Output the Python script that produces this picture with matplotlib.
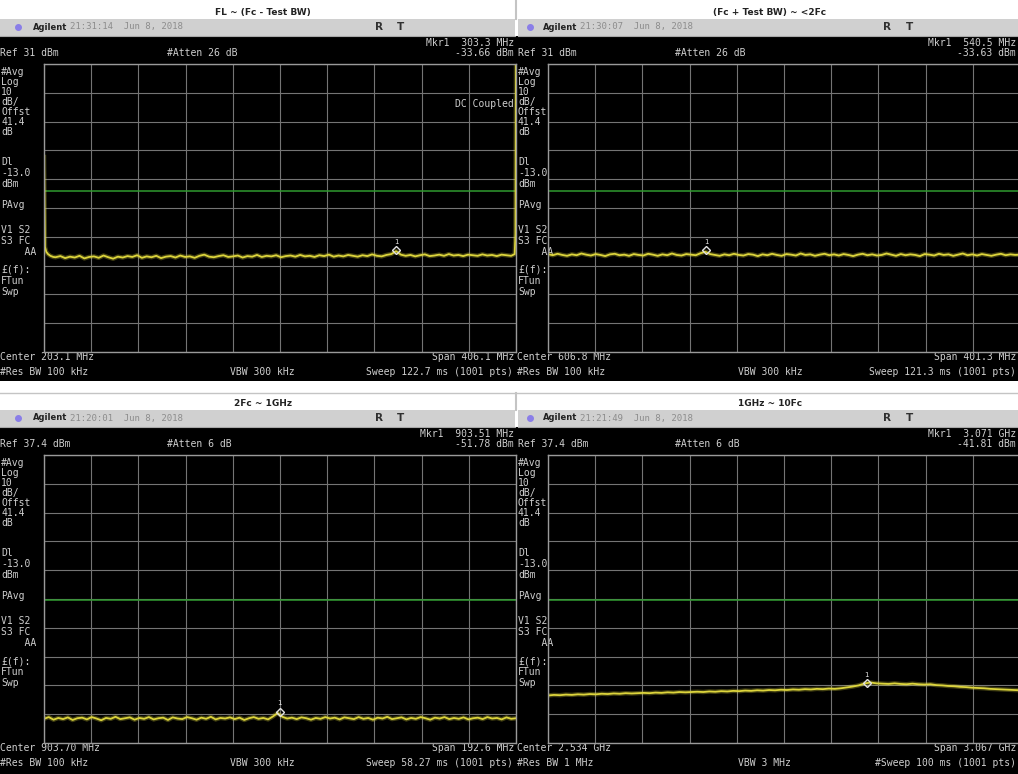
import numpy as np
import matplotlib.pyplot as plt
from matplotlib.patches import Rectangle

W, H = 1018, 774

# panel order: top-left, top-right, bottom-left, bottom-right
titles = ['FL ~ (Fc - Test BW)', '(Fc + Test BW) ~ <2Fc', '2Fc ~ 1GHz', '1GHz ~ 10Fc']
timestamps = ['21:31:14  Jun 8, 2018', '21:30:07  Jun 8, 2018',
              '21:20:01  Jun 8, 2018', '21:21:49  Jun 8, 2018']
ref_dbm = [31, 31, 37.4, 37.4]
ref_labels = ['Ref 31 dBm', 'Ref 31 dBm', 'Ref 37.4 dBm', 'Ref 37.4 dBm']
atten_labels = ['#Atten 26 dB', '#Atten 26 dB', '#Atten 6 dB', '#Atten 6 dB']
center_mhz = [203.1, 606.8, 903.70, 2534.0]
span_mhz = [406.1, 401.3, 192.6, 3067.0]
center_labels = ['Center 203.1 MHz', 'Center 606.8 MHz', 'Center 903.70 MHz', 'Center 2.534 GHz']
span_labels = ['Span 406.1 MHz', 'Span 401.3 MHz', 'Span 192.6 MHz', 'Span 3.067 GHz']
rbw_labels = ['#Res BW 100 kHz', '#Res BW 100 kHz', '#Res BW 100 kHz', '#Res BW 1 MHz']
vbw_labels = ['VBW 300 kHz', 'VBW 300 kHz', 'VBW 300 kHz', 'VBW 3 MHz']
sweep_labels = ['Sweep 122.7 ms (1001 pts)', 'Sweep 121.3 ms (1001 pts)',
                'Sweep 58.27 ms (1001 pts)', '#Sweep 100 ms (1001 pts)']
mkr_freq_labels = ['Mkr1  303.3 MHz', 'Mkr1  540.5 MHz', 'Mkr1  903.51 MHz', 'Mkr1  3.071 GHz']
mkr_level_labels = ['-33.66 dBm', '-33.63 dBm', '-51.78 dBm', '-41.81 dBm']
mkr_freq = [303.3, 540.5, 903.51, 3071.0]
mkr_dbm = [-33.66, -33.63, -51.78, -41.81]
display_line_dbm = -13.0

side_labels = ['#Avg', 'Log', '10', 'dB/', 'Offst', '41.4', 'dB', 'Dl', '-13.0', 'dBm',
               'PAvg', 'V1 S2', 'S3 FC', '    AA', '£(f):', 'FTun', 'Swp']
side_rows = [72, 82, 92, 102, 112, 122, 132, 162, 173, 184,
             205, 230, 241, 252, 270, 281, 292]

# traces (dBm)
tl_edge_freq = [0.05, 0.9, 2.0, 3.5, 5.5, 8.0]
tl_edge_dbm = [-1.3, -32.5, -34.2, -35.0, -35.6, -36.0]
tl_body_dbm = [
    -36.1, -35.7, -36.4, -35.9, -36.2, -35.6, -36.5, -36.0, -35.8, -36.3,
    -35.5, -36.1, -36.6, -35.9, -36.2, -35.7, -36.0, -35.4, -36.3, -35.8,
    -36.1, -35.6, -36.4, -35.9, -35.7, -36.2, -35.5, -36.0, -35.8, -36.3,
    -35.6, -35.2, -35.9, -36.1, -35.7, -35.4, -36.0, -35.8, -35.5, -36.2,
    -35.7, -35.9, -35.3, -36.0, -35.6, -35.8, -35.4, -36.1, -35.7, -35.5,
    -35.9, -35.3, -35.8, -35.6, -36.0, -35.4, -35.7, -35.2, -35.9, -35.5,
    -35.8, -35.3, -35.6, -35.9, -35.4, -35.7, -35.1, -35.6, -35.8, -35.3,
    -35.0, -34.0, -35.2, -35.6, -35.3, -35.8, -35.4, -35.1, -35.7, -35.5,
    -35.2, -35.6, -35.0, -35.5, -35.3, -35.7, -35.2, -35.4, -35.6, -35.1,
    -35.5, -35.3, -35.7, -35.2, -35.4, -35.6]
tl_end_freq = [405.0, 405.7, 406.15]
tl_end_dbm = [-35.0, -28.0, 33.0]

tr_dbm = [
    -35.0, -35.4, -34.9, -35.3, -35.6, -35.1, -35.4, -34.8, -35.2, -35.5,
    -35.0, -35.3, -35.7, -35.1, -34.9, -35.4, -35.2, -35.6, -35.0, -35.3,
    -35.5, -34.9, -35.2, -35.6, -35.1, -35.4, -34.8, -35.3, -35.5, -35.0,
    -35.2, -35.4, -34.7, -34.2, -35.0, -35.3, -35.6, -35.1, -35.4, -34.9,
    -35.3, -35.5, -35.0, -35.2, -35.7, -35.1, -35.4, -34.9, -35.3, -35.6,
    -35.0, -35.2, -35.5, -34.8, -35.3, -35.1, -35.6, -35.2, -34.9, -35.4,
    -35.1, -35.5, -35.0, -35.3, -35.7, -35.2, -34.9, -35.4, -35.1, -35.5,
    -35.3, -34.8, -35.2, -35.6, -35.0, -35.4, -35.1, -35.3, -35.7, -35.0,
    -35.2, -35.5, -34.9, -35.3, -35.1, -35.6, -35.2, -34.8, -35.4, -35.1,
    -35.5, -35.0, -35.3, -35.6, -35.2, -34.9, -35.4, -35.1, -35.3, -35.2]

bl_dbm = [
    -54.2, -53.6, -54.5, -53.9, -54.3, -53.7, -54.6, -54.0, -53.8, -54.4,
    -53.6, -54.1, -54.7, -53.9, -54.2, -53.5, -54.3, -54.0, -53.7, -54.5,
    -53.9, -54.2, -53.6, -54.4, -54.0, -53.8, -54.6, -53.7, -54.1, -54.3,
    -53.6, -54.0, -54.5, -53.8, -54.2, -53.5, -54.4, -53.9, -54.1, -53.7,
    -54.3, -53.8, -54.6, -54.0, -53.6, -54.2, -53.9, -54.4, -53.4, -52.2,
    -53.5, -54.1, -53.8, -54.3, -53.7, -54.0, -54.5, -53.9, -54.2, -53.6,
    -54.1, -53.8, -54.4, -53.7, -54.0, -54.3, -53.6, -54.2, -53.9, -54.5,
    -53.8, -54.1, -53.5, -54.3, -54.0, -53.7, -54.4, -53.9, -54.2, -53.6,
    -54.0, -54.5, -53.8, -54.1, -53.6, -54.3, -53.9, -54.2, -53.7, -54.4,
    -54.0, -53.8, -54.3, -53.6, -54.1, -53.9, -54.4, -53.7, -54.2, -54.0]

br_dbm = [
    -46.1, -45.9, -46.0, -45.8, -45.9, -45.7, -45.8, -45.6, -45.7, -45.5,
    -45.6, -45.4, -45.5, -45.3, -45.4, -45.3, -45.2, -45.3, -45.1, -45.2,
    -45.0, -45.1, -44.9, -45.0, -44.9, -44.8,
    -44.9, -44.7, -44.8, -44.6, -44.7, -44.5, -44.6, -44.4, -44.5, -44.3,
    -44.4, -44.2, -44.3, -44.1, -44.2, -44.0, -44.1, -43.9, -44.0, -43.8,
    -43.9, -43.7, -43.8,
    -43.6, -43.3, -43.0, -42.6, -41.9, -41.6,
    -41.9, -42.0, -42.1, -41.9, -42.1, -42.2, -42.0, -42.2, -42.3, -42.2,
    -42.5, -42.6, -42.8, -42.9, -43.1, -43.2, -43.4, -43.5, -43.6, -43.8,
    -43.9, -44.0, -44.1, -44.2, -44.3]

TEXT = '#cfcfcf'
MONO = 'DejaVu Sans Mono'


def span_freqs(i, n):
    lo = center_mhz[i] - span_mhz[i] / 2
    hi = center_mhz[i] + span_mhz[i] / 2
    return np.linspace(lo, hi, n)


tl_freq = np.concatenate([tl_edge_freq, np.linspace(10, 402, len(tl_body_dbm)), tl_end_freq])
tl_all = np.concatenate([tl_edge_dbm, tl_body_dbm, tl_end_dbm])
traces = [
    (tl_freq, tl_all),
    (span_freqs(1, len(tr_dbm)), np.array(tr_dbm)),
    (span_freqs(2, len(bl_dbm)), np.array(bl_dbm)),
    (span_freqs(3, len(br_dbm)), np.array(br_dbm)),
]

fig = plt.figure(figsize=(W / 100, H / 100), dpi=100)
fig.patch.set_facecolor('white')
bg = fig.add_axes([0, 0, 1, 1])
bg.set_xlim(0, W)
bg.set_ylim(H, 0)
bg.axis('off')

# outer frame lines of the table
bg.plot([0, W], [393, 393], color='#c4c4c4', lw=1)
bg.plot([516, 516], [0, 19], color='#c4c4c4', lw=1.5)
bg.plot([516, 516], [393, 410], color='#c4c4c4', lw=1.5)

# per panel layout: label column, grid left/right, header extents, text anchors
cols = [
    dict(lab=1, ref=0, g0=44, g1=516, h0=0, h1=515, tc=263, dot=18, agi=33, tim=70,
         r=375, t=397, att=167, mk=514, cen=0, vbw=230, spn=514, swp=513),
    dict(lab=518, ref=518, g0=548, g1=1020, h0=518, h1=1018, tc=770, dot=530, agi=543, tim=580,
         r=883, t=906, att=675, mk=1016, cen=517, vbw=738, spn=1016, swp=1016),
]

for i in range(4):
    c = cols[i % 2]
    dy = 0 if i < 2 else 391
    scr_bottom = 381 if i < 2 else H

    # title and header bar
    bg.text(c['tc'], 12 + dy, titles[i], ha='center', va='center', fontsize=6.5,
            fontweight='bold', color='#222222')
    bg.add_patch(Rectangle((c['h0'], 19 + dy), c['h1'] - c['h0'], 17, color='#d0d0d0', lw=0))
    bg.plot([c['h0'], c['h1']], [35.5 + dy, 35.5 + dy], color='#a8a8a8', lw=0.8)
    bg.plot(c['dot'], 27 + dy, 'o', ms=4, color='#8a7ee8')
    bg.text(c['agi'], 27 + dy, 'Agilent', va='center', fontsize=6, fontweight='bold',
            color='#202020')
    bg.text(c['tim'], 27 + dy, timestamps[i], va='center', fontsize=6.5, family=MONO,
            color='#8c8c8c')
    bg.text(c['r'], 27 + dy, 'R', va='center', fontsize=7.5, fontweight='bold', color='#303030')
    bg.text(c['t'], 27 + dy, 'T', va='center', fontsize=7.5, fontweight='bold', color='#303030')

    # black screen
    x_left = 0 if i % 2 == 0 else 516
    x_right = 516 if i % 2 == 0 else W
    bg.add_patch(Rectangle((x_left, 36 + dy), x_right - x_left, scr_bottom - 36 - dy,
                           color='black', lw=0, zorder=1))

    kw = dict(va='center', fontsize=7, family=MONO, color=TEXT, zorder=3)
    bg.text(c['mk'], 43 + dy, mkr_freq_labels[i], ha='right', **kw)
    bg.text(c['mk'], 53 + dy, mkr_level_labels[i], ha='right', **kw)
    bg.text(c['ref'], 53 + dy, ref_labels[i], **kw)
    bg.text(c['att'], 53 + dy, atten_labels[i], **kw)
    for lab, yy in zip(side_labels, side_rows):
        bg.text(c['lab'], yy + dy, lab, **kw)
    bg.text(c['cen'], 357 + dy, center_labels[i], **kw)
    bg.text(c['spn'], 357 + dy, span_labels[i], ha='right', **kw)
    bg.text(c['cen'], 372 + dy, rbw_labels[i], **kw)
    bg.text(c['vbw'], 372 + dy, vbw_labels[i], **kw)
    bg.text(c['swp'], 372 + dy, sweep_labels[i], ha='right', **kw)
    if i == 0:
        bg.text(514, 104, 'DC Coupled', ha='right', **kw)

    # graticule with trace
    gy0, gy1 = 64 + dy, 352 + dy
    ax = fig.add_axes([c['g0'] / W, 1 - gy1 / H, (c['g1'] - c['g0']) / W, (gy1 - gy0) / H])
    ax.set_facecolor('none')
    lo = center_mhz[i] - span_mhz[i] / 2
    hi = center_mhz[i] + span_mhz[i] / 2
    ax.set_xlim(lo, hi)
    ax.set_ylim(ref_dbm[i] - 100, ref_dbm[i])
    ax.set_xticks(np.linspace(lo, hi, 11))
    ax.set_yticks(np.linspace(ref_dbm[i] - 100, ref_dbm[i], 11))
    ax.tick_params(length=0, labelbottom=False, labelleft=False)
    ax.grid(color='#747474', lw=0.8)
    for s in ax.spines.values():
        s.set_color('#9a9a9a')
        s.set_linewidth(1.0)
    ax.axhline(display_line_dbm, color='#2f9a2f', lw=1.1)

    f, d = traces[i]
    ax.plot(f, d, color='#d9d23a', lw=3.2, alpha=0.3)
    ax.plot(f, d, color='#dcd43c', lw=1.3)

    ax.plot(mkr_freq[i], mkr_dbm[i], marker='D', ms=4.5, mfc='none', mec='#e2e2e2', mew=1.0)
    ax.annotate('1', (mkr_freq[i], mkr_dbm[i]), xytext=(0, 4), textcoords='offset points',
                ha='center', va='bottom', fontsize=5, color='#e2e2e2')

fig.savefig('out.png', dpi=100)
